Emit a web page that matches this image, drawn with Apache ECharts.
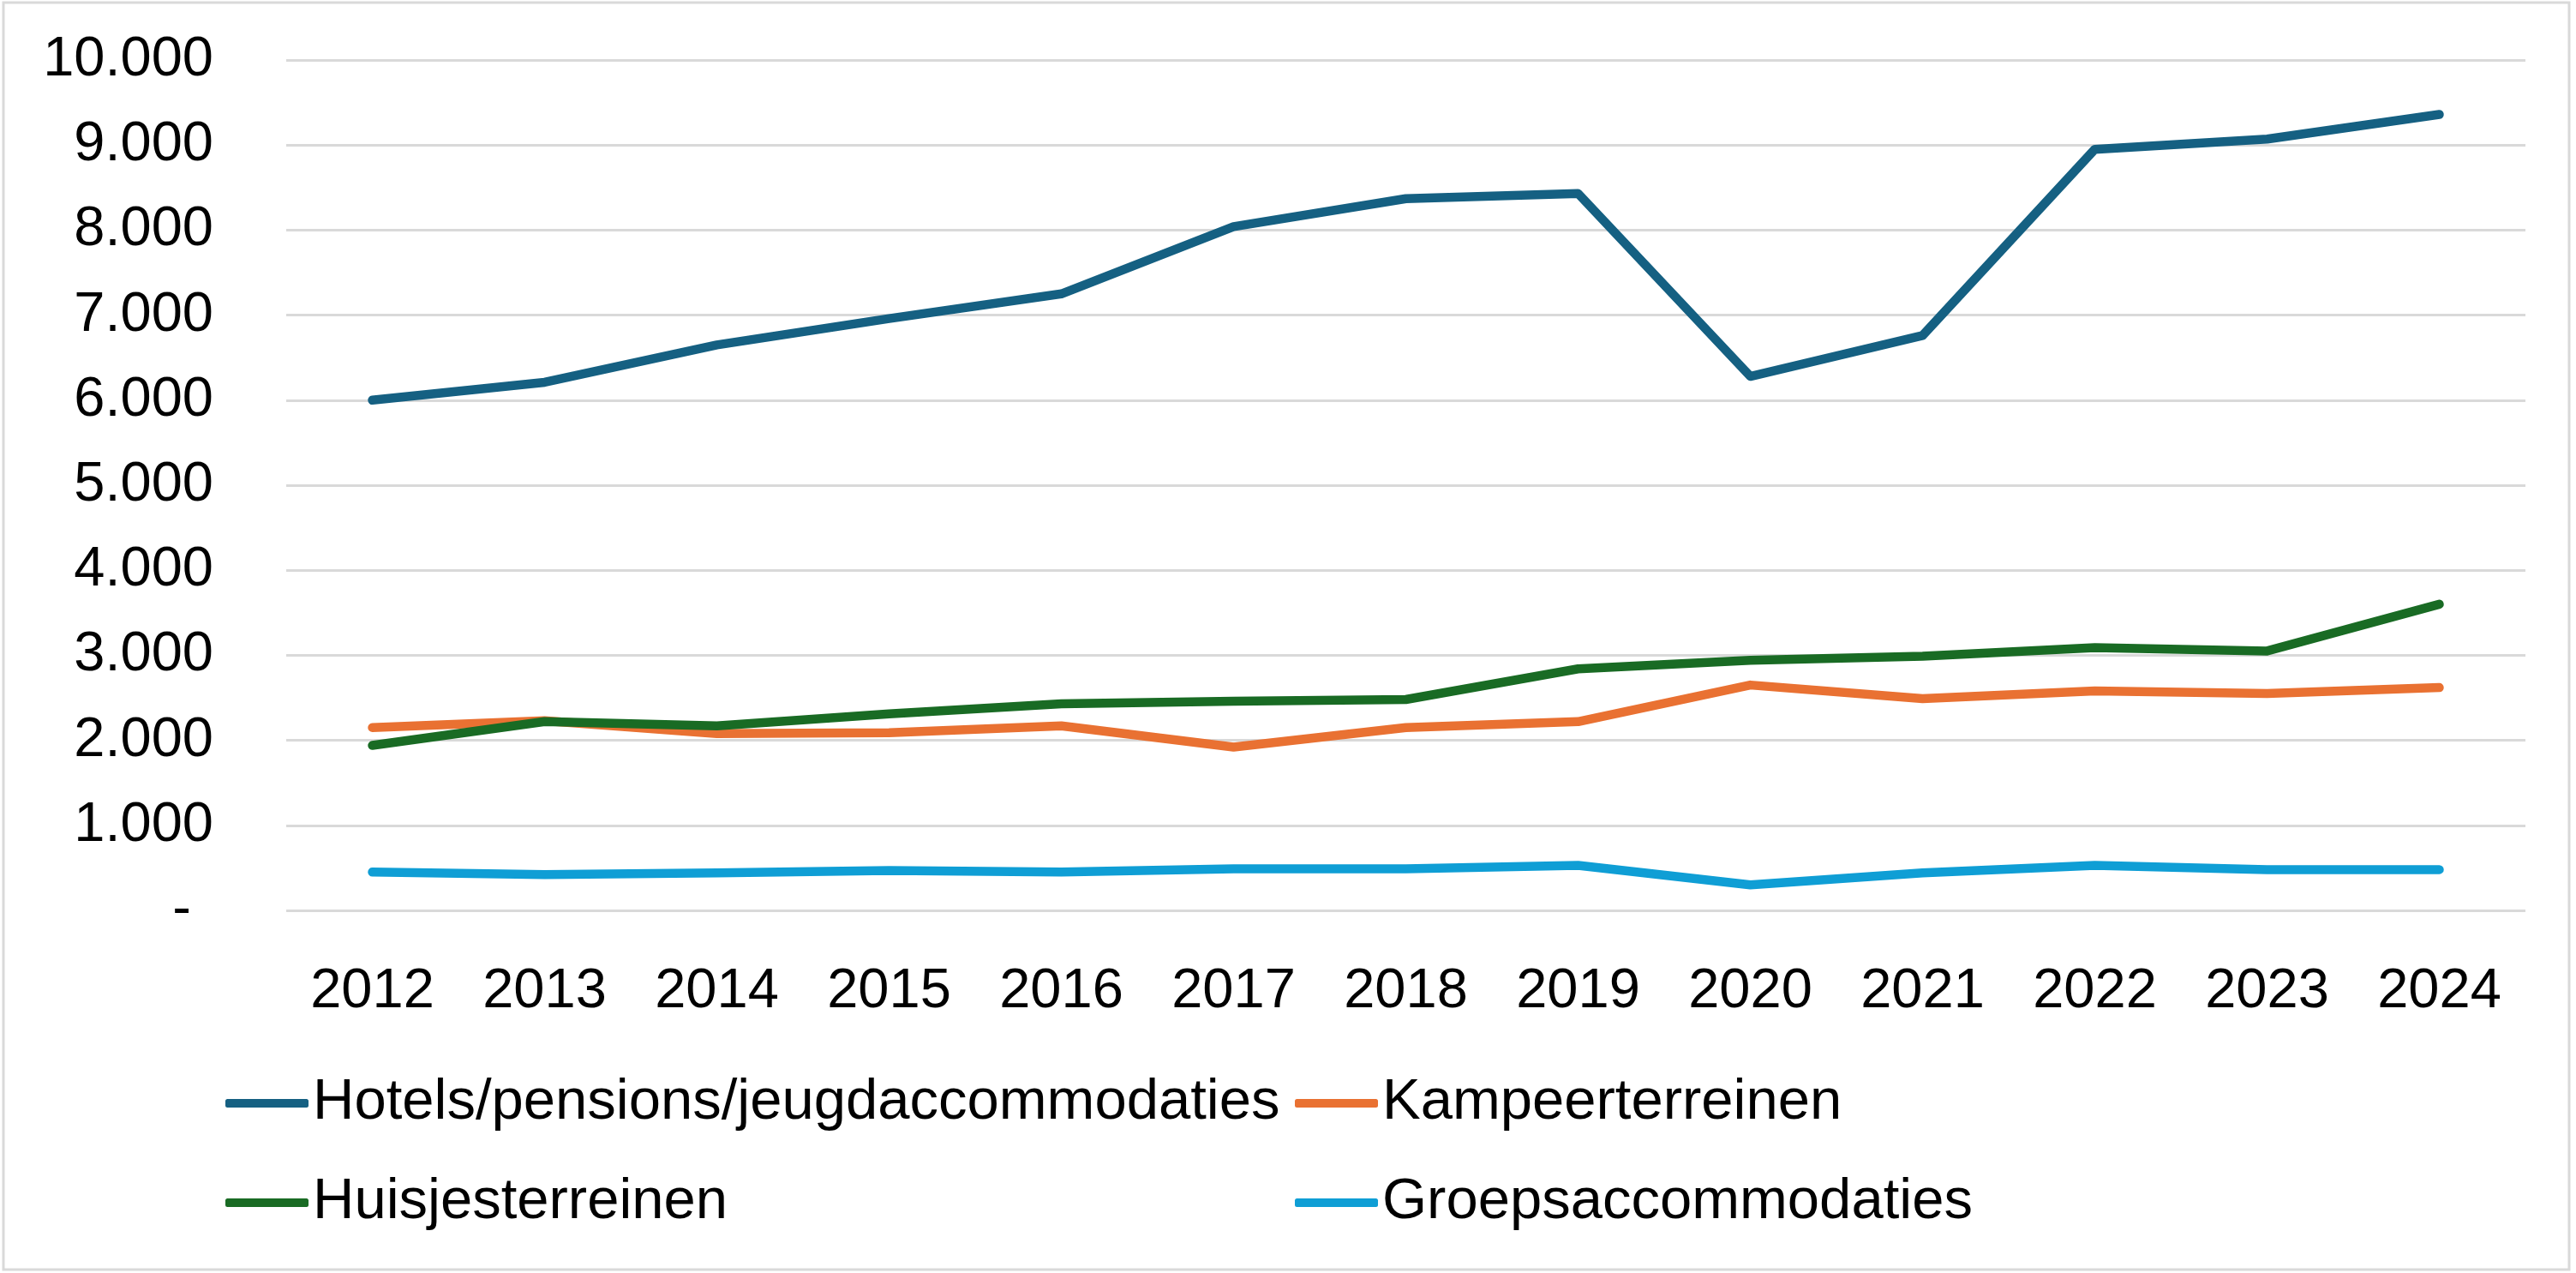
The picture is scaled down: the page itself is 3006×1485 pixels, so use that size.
<!DOCTYPE html>
<html>
<head>
<meta charset="utf-8">
<script src="https://cdn.jsdelivr.net/npm/echarts@6/dist/echarts.min.js"></script>
<style>
html,body{margin:0;padding:0;background:#fff;}
#chart{width:3006px;height:1485px;}
</style>
</head>
<body>
<div id="chart"></div>
<script>
const years = ['2012','2013','2014','2015','2016','2017','2018','2019','2020','2021','2022','2023','2024'];
const hotels = [6000, 6210, 6650, 6960, 7250, 8040, 8370, 8430, 6280, 6760, 8950, 9070, 9360];
const kampeer = [2150, 2230, 2080, 2090, 2170, 1920, 2150, 2220, 2650, 2490, 2580, 2550, 2620];
const huisjes = [1940, 2220, 2170, 2310, 2430, 2460, 2480, 2840, 2940, 2990, 3090, 3050, 3600];
const groeps = [450, 420, 440, 470, 450, 490, 490, 530, 300, 440, 530, 480, 480];
const seriesNames = ['Hotels/pensions/jeugdaccommodaties', 'Kampeerterreinen', 'Huisjesterreinen', 'Groepsaccommodaties'];
const seriesColors = ['#156082', '#E97132', '#196B24', '#0F9ED5'];

const FONT = 'Liberation Sans';
const chart = echarts.init(document.getElementById('chart'), null, {renderer: 'canvas'});

function fmt(v) {
  if (v === 0) return '{z|-}';
  return String(v).replace(/\B(?=(\d{3})+(?!\d))/g, '.');
}

const dataArr = [hotels, kampeer, huisjes, groeps];
const legendCommon = {
  orient: 'vertical',
  top: 1252,
  padding: 0,
  itemWidth: 97,
  itemHeight: 10,
  itemGap: 46,
  icon: 'roundRect',
  textStyle: {fontFamily: FONT, fontSize: 67, color: '#000', lineHeight: 70}
};

chart.setOption({
  animation: false,
  backgroundColor: '#fff',
  textStyle: {fontFamily: FONT},
  graphic: [{
    type: 'rect', shape: {x: 4, y: 3, width: 2994, height: 1478},
    style: {fill: 'none', stroke: '#d9d9d9', lineWidth: 3}, silent: true, z: -1
  }],
  grid: {left: 334, right: 59, top: 70, bottom: 423},
  legend: [
    Object.assign({left: 263, data: [seriesNames[0], seriesNames[2]]}, legendCommon),
    Object.assign({left: 1511, data: [seriesNames[1], seriesNames[3]]}, legendCommon)
  ],
  xAxis: {
    type: 'category',
    data: years,
    boundaryGap: true,
    axisLine: {show: false},
    axisTick: {show: false},
    axisLabel: {fontFamily: FONT, fontSize: 65, color: '#000', margin: 63}
  },
  yAxis: {
    type: 'value',
    min: 0, max: 10000, interval: 1000,
    axisLine: {show: false},
    axisTick: {show: false},
    splitLine: {lineStyle: {color: '#d9d9d9', width: 3}},
    axisLabel: {
      fontFamily: FONT, fontSize: 65, color: '#000', margin: 85,
      formatter: fmt,
      rich: {z: {fontFamily: FONT, fontSize: 65, color: '#000', padding: [0, 26, 0, 0]}}
    }
  },
  series: dataArr.map((d, i) => ({
    name: seriesNames[i],
    type: 'line',
    data: d,
    showSymbol: false,
    symbol: 'none',
    color: seriesColors[i],
    lineStyle: {width: 10.5, color: seriesColors[i], cap: 'round', join: 'round'},
    itemStyle: {color: seriesColors[i]}
  }))
});
</script>
</body>
</html>
